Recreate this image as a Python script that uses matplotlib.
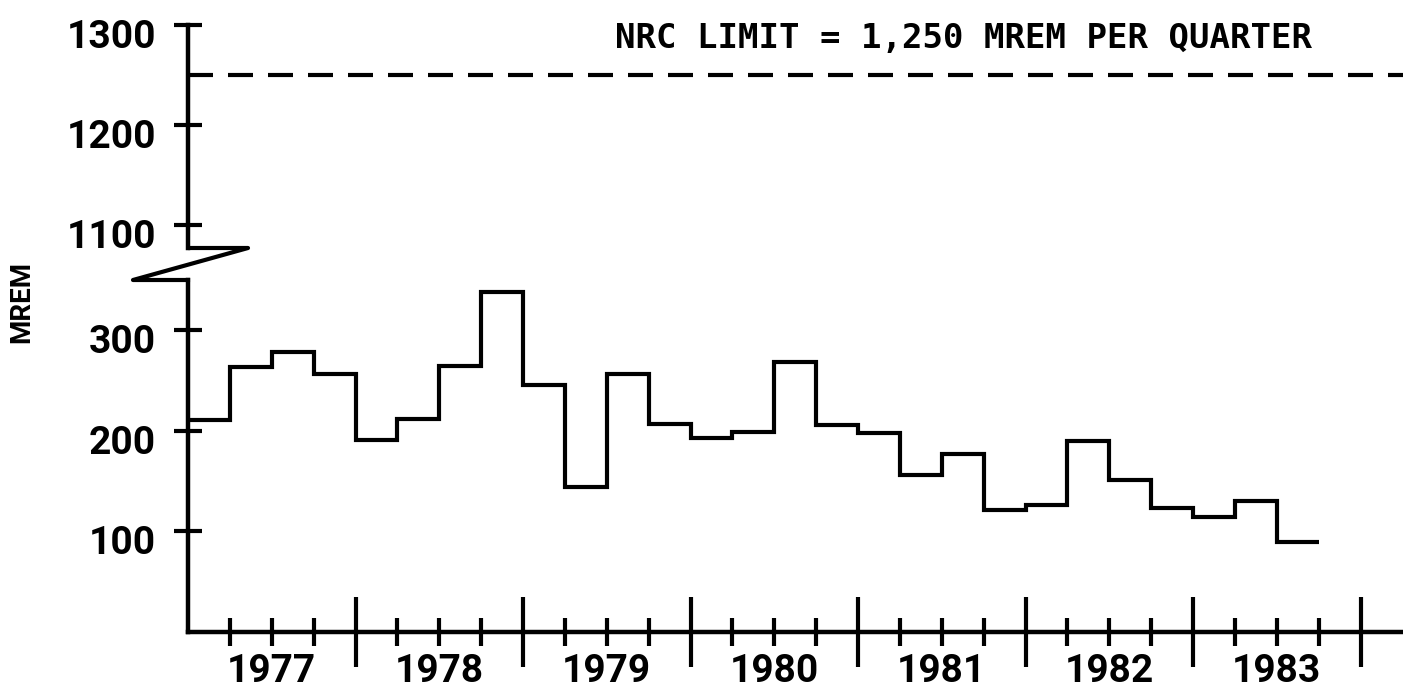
import matplotlib
matplotlib.use('Agg')
import matplotlib.pyplot as plt
import matplotlib.transforms as mtransforms
from matplotlib.lines import Line2D
from matplotlib.ticker import FixedLocator, FixedFormatter, NullFormatter
import numpy as np

plt.rcParams['font.family'] = ['Roboto', 'DejaVu Sans']
plt.rcParams['font.weight'] = 'bold'

# quarterly dose, 1977 Q1 .. 1983 Q3
years = [1977, 1978, 1979, 1980, 1981, 1982, 1983]
mrem = [211, 263, 278, 257,
        191, 212, 264, 338,
        246, 144, 257, 207,
        193, 199, 268, 206,
        198, 156, 177, 121,
        126, 190, 151, 123,
        114, 130, 89]
nrc_limit = 1250
low_ticks = [100, 200, 300]
high_ticks = [1100, 1200, 1300]

W, H = 1403, 694
fig = plt.figure(figsize=(W / 100, H / 100), dpi=100)

# axis geometry (pixels in the original scan)
x_axis_px, x_end_px, px_per_year = 188, 1403, 167.5
xlim = (1977, 1977 + (x_end_px - x_axis_px) / px_per_year)

ax_lo = fig.add_axes([x_axis_px / W, (H - 632) / H, (W - x_axis_px) / W, (632 - 280) / H])
ax_hi = fig.add_axes([x_axis_px / W, (H - 248) / H, (W - x_axis_px) / W, (248 - 25) / H])

for ax in (ax_lo, ax_hi):
    ax.set_xlim(*xlim)
    ax.patch.set_alpha(0)
    for s in ['top', 'right']:
        ax.spines[s].set_visible(False)
    ax.spines['left'].set_linewidth(3.2)
    ax.tick_params(axis='y', direction='inout', length=20, width=3, pad=13,
                   labelsize=28)

ax_lo.set_ylim(0, 350)
ax_hi.set_ylim(1077, 1300)
ax_lo.set_yticks(low_ticks)
ax_hi.set_yticks(high_ticks)

ax_hi.spines['bottom'].set_visible(False)
ax_hi.set_xticks([])
ax_lo.spines['bottom'].set_linewidth(3.2)

# shift the y labels down a little, as in the scan
off = mtransforms.ScaledTranslation(0, -6 / 72, fig.dpi_scale_trans)
for ax in (ax_lo, ax_hi):
    for lab in ax.get_yticklabels():
        lab.set_transform(lab.get_transform() + off)

# step line
edges = years[0] + np.arange(len(mrem) + 1) / 4
ax_lo.stairs(mrem, edges, baseline=None, color='black', linewidth=3)

# NRC limit
ax_hi.axhline(nrc_limit, color='black', linewidth=3, linestyle=(0, (6, 3.6)))
ax_hi.text(1977 + (615 - x_axis_px) / px_per_year, nrc_limit + 27,
           'NRC LIMIT = 1,250 MREM PER QUARTER', family='DejaVu Sans Mono',
           fontsize=24.5, fontweight='bold', ha='left', va='baseline')

# x ticks: long at year boundaries, short at quarters, labels mid-year
ax_lo.set_xticks(years[1:] + [years[-1] + 1])
ax_lo.xaxis.set_major_formatter(NullFormatter())
qpos = [y + q / 4 for y in years for q in (1, 2, 3)]
qlab = [str(y) if q == 2 else '' for y in years for q in (1, 2, 3)]
ax_lo.xaxis.set_minor_locator(FixedLocator(qpos))
ax_lo.xaxis.set_minor_formatter(FixedFormatter(qlab))
ax_lo.tick_params(axis='x', which='major', direction='inout', length=50, width=3)
ax_lo.tick_params(axis='x', which='minor', direction='inout', length=20, width=3,
                  pad=5, labelsize=28)

# axis break
bx = np.array([188, 133, 248, 190]) / W
by = 1 - np.array([280, 280, 248, 248]) / H
fig.add_artist(Line2D(bx, by, color='black', linewidth=3, transform=fig.transFigure))

fig.text(22 / W, 1 - 302 / H, 'MREM', rotation=90, ha='center', va='center',
         fontsize=20, fontweight='bold')

fig.savefig('out.png', dpi=100)
